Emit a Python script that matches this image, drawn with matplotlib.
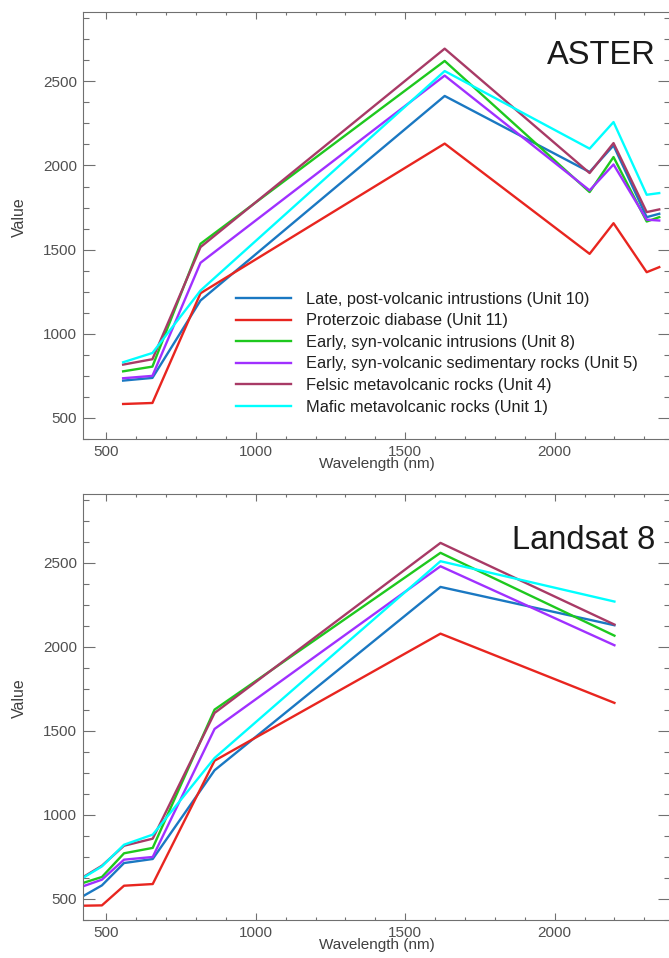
import matplotlib
matplotlib.use("Agg")
import matplotlib.pyplot as plt
from matplotlib.ticker import MultipleLocator

plt.rcParams['font.family'] = ['Liberation Sans', 'DejaVu Sans']

# legend labels / colours
units = ['Late, post-volcanic intrustions (Unit 10)',
         'Proterzoic diabase (Unit 11)',
         'Early, syn-volcanic intrusions (Unit 8)',
         'Early, syn-volcanic sedimentary rocks (Unit 5)',
         'Felsic metavolcanic rocks (Unit 4)',
         'Mafic metavolcanic rocks (Unit 1)']
colors = ['#1a78c2', '#e8251f', '#1ec81e', '#a030ff', '#a83a66', '#00ffff']

# ASTER spectra
aster_wl = [556, 654, 815, 1632, 2117, 2197, 2308, 2350]
aster_u10 = [722, 738, 1198, 2413, 1961, 2119, 1693, 1713]
aster_u11 = [583, 589, 1241, 2130, 1475, 1657, 1366, 1396]
aster_u8 = [777, 805, 1535, 2621, 1842, 2050, 1667, 1693]
aster_u5 = [736, 750, 1422, 2534, 1852, 2006, 1678, 1673]
aster_u4 = [817, 849, 1515, 2694, 1955, 2133, 1723, 1739]
aster_u1 = [831, 886, 1257, 2561, 2100, 2258, 1826, 1836]

# Landsat 8 spectra
ls_wl = [421, 485, 559, 655, 862, 1618, 2200]
ls_u10 = [516, 581, 714, 738, 1266, 2357, 2129]
ls_u11 = [460, 462, 579, 589, 1323, 2079, 1667]
ls_u8 = [595, 631, 772, 804, 1627, 2560, 2067]
ls_u5 = [575, 615, 734, 750, 1512, 2480, 2010]
ls_u4 = [629, 698, 817, 859, 1607, 2619, 2133]
ls_u1 = [625, 694, 823, 883, 1339, 2510, 2270]

aster = [aster_u10, aster_u11, aster_u8, aster_u5, aster_u4, aster_u1]
landsat = [ls_u10, ls_u11, ls_u8, ls_u5, ls_u4, ls_u1]

W, H = 669, 958
fig = plt.figure(figsize=(W / 100, H / 100), dpi=100)
ax1 = fig.add_axes([83 / W, (H - 439) / H, 587 / W, 426.7 / H])
ax2 = fig.add_axes([83 / W, (H - 920) / H, 587 / W, 426 / H])

tick_col = '#505050'
for ax, wl, series, name, ty in [(ax1, aster_wl, aster, 'ASTER', 0.898),
                                 (ax2, ls_wl, landsat, 'Landsat 8', 0.892)]:
    for vals, c, lab in zip(series, colors, units):
        ax.plot(wl, vals, color=c, lw=1.7, label=lab)
    ax.set_xlim(421.7, 2386)
    ax.set_ylim(375, 2910)
    ax.xaxis.set_major_locator(MultipleLocator(500))
    ax.xaxis.set_minor_locator(MultipleLocator(100))
    ax.yaxis.set_major_locator(MultipleLocator(500))
    ax.yaxis.set_minor_locator(MultipleLocator(125))
    ax.tick_params(axis='x', which='major', direction='in', length=5.3, width=0.8,
                   top=True, color='#707070', labelsize=11, labelcolor=tick_col, pad=4)
    ax.tick_params(axis='x', which='minor', direction='in', length=2.5, width=0.8,
                   top=True, color='#707070')
    ax.tick_params(axis='y', which='major', direction='in', length=8.4, width=0.8,
                   right=True, color='#707070', labelsize=11, labelcolor=tick_col, pad=4.5)
    ax.tick_params(axis='y', which='minor', direction='in', length=4, width=0.8,
                   right=True, color='#707070')
    for sp in ax.spines.values():
        sp.set_color('#707070')
        sp.set_linewidth(0.8)
    ax.set_xlabel('Wavelength (nm)', fontsize=11, color='#404040', labelpad=-1)
    ax.set_ylabel('Value', fontsize=11.5, color='#404040')
    ax.yaxis.set_label_coords(-0.095, 0.52)
    ax.text(0.975, ty, name, transform=ax.transAxes, ha='right', va='center',
            fontsize=23.5, color='#1a1a1a')

ax1.legend(loc='upper left', bbox_to_anchor=(0.261, 0.345), frameon=False,
           fontsize=11.8, handlelength=3.37, handletextpad=0.9, labelspacing=0.4,
           borderpad=0, borderaxespad=0, labelcolor='#202020')

fig.savefig('out.png', dpi=100)
